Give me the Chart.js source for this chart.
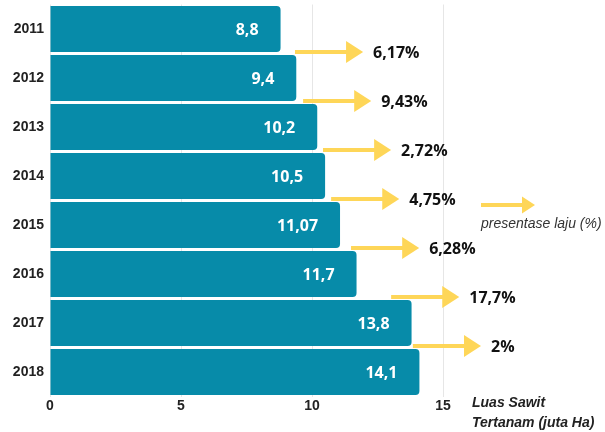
<!DOCTYPE html>
<html>
<head>
<meta charset="utf-8">
<script src="https://cdn.jsdelivr.net/npm/chart.js@4.4.1/dist/chart.umd.min.js"></script>
<style>
  html, body { margin: 0; padding: 0; background: #fff; }
  #wrap { width: 605px; height: 432px; position: relative; }
</style>
</head>
<body>
<div id="wrap"><canvas id="sawitChart"></canvas></div>
<script>
// luas sawit tertanam per tahun (juta Ha)
var years = ["2011", "2012", "2013", "2014", "2015", "2016", "2017", "2018"];
var luas = [8.8, 9.4, 10.2, 10.5, 11.07, 11.7, 13.8, 14.1];
var luasLabels = ["8,8", "9,4", "10,2", "10,5", "11,07", "11,7", "13,8", "14,1"];
// laju pertumbuhan antar tahun (%)
var laju = [6.17, 9.43, 2.72, 4.75, 6.28, 17.7, 2];
var lajuLabels = ["6,17%", "9,43%", "2,72%", "4,75%", "6,28%", "17,7%", "2%"];
var xTicks = [0, 5, 10, 15];

var barColor = '#078ba9';
var arrowColor = '#fed658';

function drawArrow(ctx, x0, x1, y, headLen, headHalf, width) {
    ctx.save();
    ctx.strokeStyle = arrowColor;
    ctx.fillStyle = arrowColor;
    ctx.lineWidth = width;
    ctx.beginPath();
    ctx.moveTo(x0, y);
    ctx.lineTo(x1 - headLen + 1, y);
    ctx.stroke();
    ctx.beginPath();
    ctx.moveTo(x1 - headLen, y - headHalf);
    ctx.lineTo(x1, y);
    ctx.lineTo(x1 - headLen, y + headHalf);
    ctx.closePath();
    ctx.fill();
    ctx.restore();
}

// labels inside bars, growth arrows, legend and axis title
var annotations = {
    id: 'annotations',
    afterDatasetsDraw: function (chart, args, opts) {
        var ctx = chart.ctx;
        var xs = chart.scales.x;
        var ys = chart.scales.y;
        var area = chart.chartArea;

        ctx.save();
        // nilai di dalam batang
        ctx.font = 'bold 16px "Open Sans"';
        ctx.fillStyle = '#ffffff';
        ctx.textAlign = 'right';
        ctx.textBaseline = 'middle';
        chart.getDatasetMeta(0).data.forEach(function (bar, i) {
            ctx.fillText(luasLabels[i], bar.x - 22, bar.y + 1);
        });

        // panah laju antar tahun
        ctx.font = 'bold 16px "Open Sans"';
        ctx.fillStyle = '#111111';
        ctx.textAlign = 'left';
        laju.forEach(function (v, i) {
            var y = (ys.getPixelForValue(i) + ys.getPixelForValue(i + 1)) / 2 - 1.5;
            var x0 = xs.getPixelForValue(opts.arrowTails[i]);
            var x1 = xs.getPixelForValue(opts.arrowTails[i] + opts.arrowLength);
            drawArrow(ctx, x0, x1, y, 17, 11, 4);
            ctx.fillText(lajuLabels[i], x1 + 10, y + 1);
        });

        // legenda
        var lx = area.right + 38;
        drawArrow(ctx, lx, lx + 54, 205, 13, 8.5, 4);
        ctx.font = 'italic 14px "Liberation Sans"';
        ctx.fillStyle = '#333333';
        ctx.fillText('presentase laju (%)', lx, 224);

        // judul sumbu x
        ctx.font = 'bold italic 14px "Liberation Sans"';
        ctx.fillStyle = '#222222';
        ctx.fillText('Luas Sawit', area.right + 29, 403);
        ctx.fillText('Tertanam (juta Ha)', area.right + 29, 423);
        ctx.restore();
    }
};

var ctxB = document.getElementById('sawitChart');
var sawitChart = new Chart(ctxB, {
    type: 'bar',
    data: {
        labels: years,
        datasets: [{
            label: 'Luas Sawit Tertanam',
            data: luas,
            backgroundColor: barColor,
            borderRadius: 4,
            borderSkipped: 'start',
            barPercentage: 0.94,
            categoryPercentage: 1
        }]
    },
    options: {
        indexAxis: 'y',
        responsive: true,
        maintainAspectRatio: false,
        animation: false,
        layout: {
            padding: { top: 4.5, right: 162, left: 0, bottom: 0 }
        },
        scales: {
            x: {
                min: 0,
                max: 15,
                afterFit: function (scale) {
                    scale.height = 35.5;
                    scale.paddingLeft = 0;
                    scale.paddingRight = 0;
                },
                afterBuildTicks: function (scale) {
                    scale.ticks = xTicks.map(function (v) { return { value: v }; });
                },
                grid: { color: '#e6e6e6', drawTicks: false },
                border: { display: false },
                ticks: {
                    padding: 1,
                    color: '#222222',
                    font: { family: 'Liberation Sans', size: 14, weight: 'bold' }
                }
            },
            y: {
                afterFit: function (scale) {
                    scale.width = 50;
                    scale.paddingTop = 0;
                    scale.paddingBottom = 0;
                },
                grid: { display: false, drawTicks: false },
                border: { display: false },
                ticks: {
                    padding: 6,
                    color: '#222222',
                    font: { family: 'Liberation Sans', size: 14, weight: 'bold' }
                }
            }
        },
        plugins: {
            legend: { display: false },
            tooltip: { enabled: false },
            annotations: {
                arrowTails: [9.35, 9.66, 10.42, 10.73, 11.49, 13.02, 13.85],
                arrowLength: 2.6
            }
        }
    },
    plugins: [annotations]
});
</script>
</body>
</html>
